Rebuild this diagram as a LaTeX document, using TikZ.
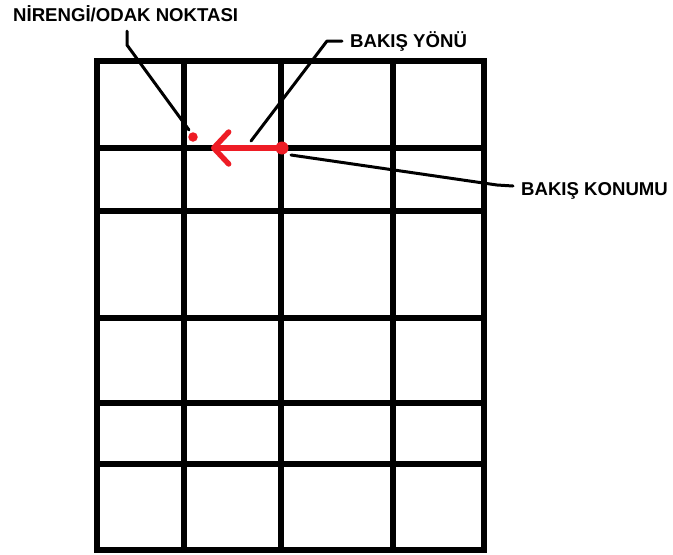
\documentclass[tikz,border=0pt]{standalone}
\usepackage{fontspec}
\setmainfont{Liberation Sans}
\usetikzlibrary{arrows.meta,positioning}
\definecolor{sight}{HTML}{EE1C25}
\definecolor{ink}{HTML}{000000}

\begin{document}
\begin{tikzpicture}[x=1pt,y=-1pt,
  grid/.style={draw=ink,line width=5.4pt,line cap=rect},
  leader/.style={draw=ink,line width=3pt,line cap=round,line join=round},
  label/.style={font=\fontsize{18.6}{21}\selectfont\bfseries,inner sep=0pt,anchor=base west},
  spot/.style={circle,fill=sight,inner sep=0pt}]
\useasboundingbox[fill=white] (0,0) rectangle (673,555);
% grid
\foreach \x in {97,184,281,393,484}
  \draw[grid] (\x,61) -- (\x,550);
\foreach \y in {61,148,211,318,403,464,550}
  \draw[grid] (97,\y) -- (484,\y);
% points
\node[spot,minimum size=9.5pt] (focus) at (193,137) {};
\node[spot,minimum size=13pt] (view) at (282,148) {};
\coordinate (tip) at (211,148);
\draw[sight,line width=5.4pt,line cap=round,-{Straight Barb[round,length=15pt,width=32pt]}] (view.center) -- (tip);
% labels
\node[label] (focuslabel) at (13,21) {NİRENGİ/ODAK NOKTASI};
\node[label] (dirlabel) at (350,47) {BAKIŞ YÖNÜ};
\node[label] (viewlabel) at (521,195.5) {BAKIŞ KONUMU};
\coordinate (f1) at (127,31);
\coordinate (f2) at (127,45);
\coordinate (f3) at (189,130);
\draw[leader] (f1) -- (f2) -- (f3);
\coordinate (d1) at (342,41);
\coordinate (d2) at (327,41);
\coordinate (d3) at (251,141);
\draw[leader] (d1) -- (d2) -- (d3);
\coordinate (v1) at (291,155);
\coordinate (v2) at (497,185);
\coordinate (v3) at (513,186);
\draw[leader] (v1) -- (v2) -- (v3);
\end{tikzpicture}
\end{document}
